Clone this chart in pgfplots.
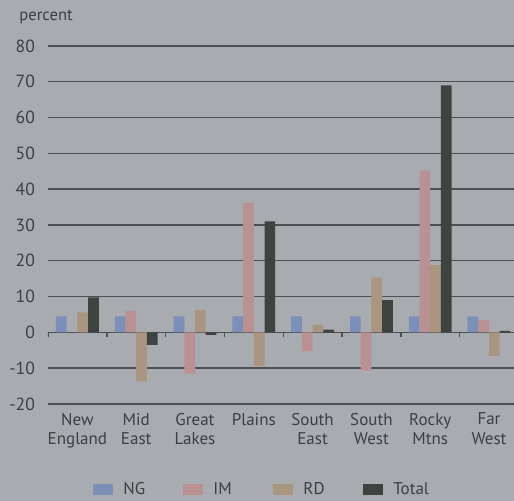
\documentclass[border=0pt]{standalone}
\usepackage{fontspec}
\setmainfont{PT Sans}
\usepackage{pgfplots}
\pgfplotsset{compat=1.18}
\definecolor{bg}{HTML}{A8ACB1}
\definecolor{gridc}{HTML}{4C4F53}
\definecolor{txt}{HTML}{3C3E42}
\definecolor{ngc}{HTML}{7B8FB8}
\definecolor{imc}{HTML}{B99193}
\definecolor{rdc}{HTML}{A99580}
\definecolor{totc}{HTML}{3D4440}
\begin{document}
\begin{tikzpicture}
\fill[bg] (0pt,0pt) rectangle (257pt,250.5pt);
\useasboundingbox (0pt,0pt) rectangle (257pt,250.5pt);
\node[anchor=west, text=txt, font=\fontsize{8.3}{9.5}\selectfont, inner sep=0pt] at (9.5pt,242pt) {percent};
\begin{axis}[
  at={(24pt,48.5pt)}, anchor=south west, scale only axis,
  width=233pt, height=179pt,
  xmin=-0.5, xmax=7.425, ymin=-20, ymax=80,
  axis lines=left, axis line style={draw=none},
  major tick length=0pt,
  ytick={-20,-10,...,80},
  ymajorgrids, grid style={color=gridc, line width=0.7pt},
  xtick={0,...,7},
  xticklabels={New\\England, Mid\\East, Great\\Lakes, Plains, South\\East, South\\West, Rocky\\Mtns, Far\\West},
  xticklabel style={align=center, text=txt, font=\fontsize{8.5}{9.6}\selectfont, anchor=north, yshift=-1pt},
  yticklabel style={text=txt, font=\fontsize{8.8}{10}\selectfont, xshift=-3pt},
  /pgf/number format/assume math mode=true,
  ybar=0pt, bar width=5.35pt,
  legend columns=4,
  legend style={at={(0.0966,-0.240)}, anchor=west, draw=none, fill=none, inner sep=0pt,
    font=\fontsize{8.5}{10}\selectfont, text=txt,
    nodes={inner sep=1pt},
    /tikz/every odd column/.append style={column sep=4pt},
    /tikz/every even column/.append style={column sep=7pt}},
  legend image code/.code={\fill[#1] (0pt,-2.75pt) rectangle (10pt,2.75pt);},
]
\addplot[fill=ngc, draw=none] coordinates {(0,4.5) (1,4.5) (2,4.5) (3,4.5) (4,4.5) (5,4.5) (6,4.5) (7,4.5)};
\addlegendentry{\makebox[22pt][l]{NG}}
\addplot[fill=imc, draw=none] coordinates {(0,0) (1,6.0) (2,-11.5) (3,36.2) (4,-5.2) (5,-10.6) (6,45.2) (7,3.4)};
\addlegendentry{\makebox[22pt][l]{IM}}
\addplot[fill=rdc, draw=none] coordinates {(0,5.6) (1,-13.7) (2,6.2) (3,-9.4) (4,2.1) (5,15.3) (6,18.8) (7,-6.6)};
\addlegendentry{\makebox[22pt][l]{RD}}
\addplot[fill=totc, draw=none] coordinates {(0,9.8) (1,-3.5) (2,-0.7) (3,31.0) (4,0.8) (5,9.0) (6,69.0) (7,0.4)};
\addlegendentry{\makebox[22pt][l]{Total}}
\addplot[ycomb, no marks, gridc, line width=0.7pt, forget plot] coordinates {(-0.5,-1.2) (0.5,-1.2) (1.5,-1.2) (2.5,-1.2) (3.5,-1.2) (4.5,-1.2) (5.5,-1.2) (6.5,-1.2)};
\end{axis}
\end{tikzpicture}
\end{document}
